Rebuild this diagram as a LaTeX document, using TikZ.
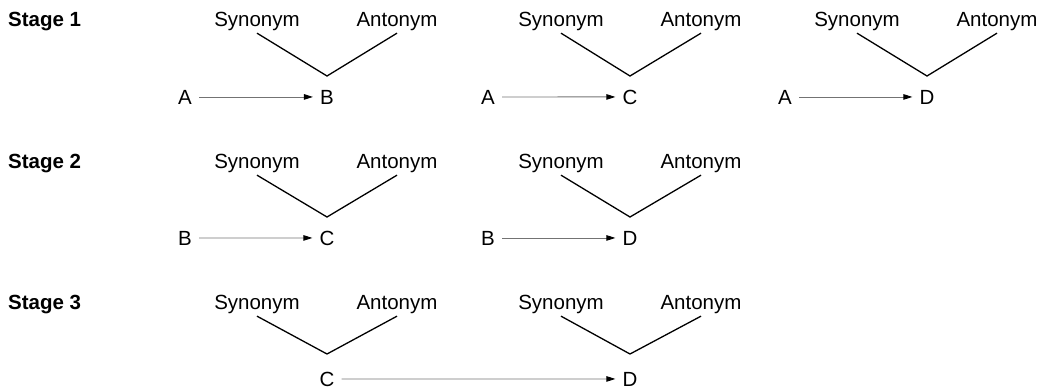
\documentclass[tikz,border=0pt]{standalone}
\usepackage{fontspec}
\setmainfont{Liberation Sans}
\usetikzlibrary{arrows.meta}
\begin{document}
\begin{tikzpicture}[x=1pt,y=-1pt,
  txt/.style={font=\fontsize{20.5}{24}\selectfont, anchor=base, inner xsep=0pt, inner ysep=2.7pt},
  stagelbl/.style={font=\fontsize{20.5}{24}\selectfont\bfseries, anchor=base west, inner sep=0pt},
  letter/.style={font=\fontsize{20.5}{24}\selectfont, anchor=base, inner xsep=7pt, inner ysep=0pt},
  vline/.style={line width=1.3pt, black},
  relarrow/.style={line width=0.9pt, black!55, -{Triangle[length=9pt,width=5.5pt,color=black]}}
]
\useasboundingbox (0,0) rectangle (1046,389);

% ---------- Stage 1 ----------
\node[stagelbl] (st1) at (8,26) {Stage 1};
% unit 1
\node[txt] (s11) at (257,26) {Synonym};
\node[txt] (a11) at (397,26) {Antonym};
\coordinate (v11) at (327,76);
\draw[vline] (s11.south) -- (v11) -- (a11.south);
\node[letter] (l11) at (185,104) {A};
\node[letter] (r11) at (327,104) {B};
\draw[relarrow] (l11) -- (r11);
% unit 2
\node[txt] (s12) at (561,26) {Synonym};
\node[txt] (a12) at (701,26) {Antonym};
\coordinate (v12) at (630,76);
\draw[vline] (s12.south) -- (v12) -- (a12.south);
\node[letter] (l12) at (488,104) {A};
\node[letter] (r12) at (630,104) {C};
\draw[relarrow] (l12) -- (r12);
% unit 3
\node[txt] (s13) at (857,26) {Synonym};
\node[txt] (a13) at (997,26) {Antonym};
\coordinate (v13) at (927,76);
\draw[vline] (s13.south) -- (v13) -- (a13.south);
\node[letter] (l13) at (785,104) {A};
\node[letter] (r13) at (927,104) {D};
\draw[relarrow] (l13) -- (r13);

% ---------- Stage 2 ----------
\node[stagelbl] (st2) at (8,168) {Stage 2};
% unit 1
\node[txt] (s21) at (257,168) {Synonym};
\node[txt] (a21) at (397,168) {Antonym};
\coordinate (v21) at (327,217);
\draw[vline] (s21.south) -- (v21) -- (a21.south);
\node[letter] (l21) at (185,245) {B};
\node[letter] (r21) at (327,245) {C};
\draw[relarrow] (l21) -- (r21);
% unit 2
\node[txt] (s22) at (561,168) {Synonym};
\node[txt] (a22) at (701,168) {Antonym};
\coordinate (v22) at (630,217);
\draw[vline] (s22.south) -- (v22) -- (a22.south);
\node[letter] (l22) at (488,245) {B};
\node[letter] (r22) at (630,245) {D};
\draw[relarrow] (l22) -- (r22);

% ---------- Stage 3 ----------
\node[stagelbl] (st3) at (8,309) {Stage 3};
% unit 1
\node[txt] (s31) at (257,309) {Synonym};
\node[txt] (a31) at (397,309) {Antonym};
\coordinate (v31) at (327,354);
\draw[vline] (s31.south) -- (v31) -- (a31.south);
% unit 2
\node[txt] (s32) at (561,309) {Synonym};
\node[txt] (a32) at (701,309) {Antonym};
\coordinate (v32) at (630,354);
\draw[vline] (s32.south) -- (v32) -- (a32.south);
\node[letter] (l31) at (327,386) {C};
\node[letter] (r31) at (630,386) {D};
\draw[relarrow] (l31) -- (r31);
\end{tikzpicture}
\end{document}
